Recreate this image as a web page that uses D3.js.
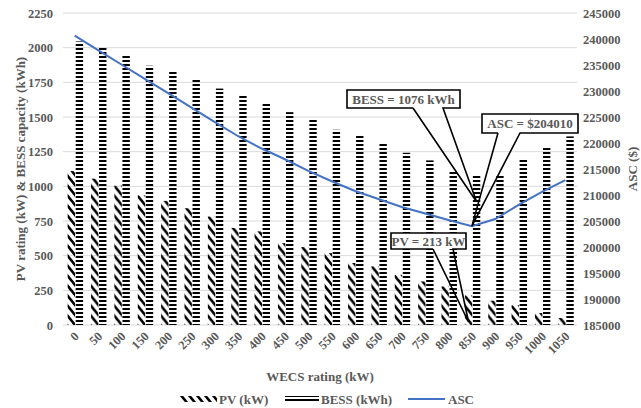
<!DOCTYPE html>
<html>
<head>
<meta charset="utf-8">
<script src="https://cdn.jsdelivr.net/npm/d3@7"></script>
<style>
  body { margin: 0; background: #fff; }
  text { font-family: "Liberation Serif", "Times New Roman", serif; font-weight: bold; fill: #595959; }
</style>
</head>
<body>
<svg id="chart" width="641" height="408"></svg>
<script>
// WECS rating categories (kW)
const wecs = [0, 50, 100, 150, 200, 250, 300, 350, 400, 450, 500, 550, 600, 650, 700, 750, 800, 850, 900, 950, 1000, 1050];
// PV rating (kW)
const pv = [1110, 1055, 1005, 935, 895, 842, 782, 700, 675, 590, 562, 518, 447, 423, 362, 314, 278, 213, 175, 142, 86, 50];
// BESS capacity (kWh)
const bess = [2045, 2000, 1945, 1870, 1833, 1776, 1705, 1660, 1600, 1535, 1487, 1408, 1372, 1307, 1242, 1187, 1110, 1076, 1076, 1197, 1276, 1360];
// ASC ($)
const asc = [240630, 237870, 235100, 232330, 229600, 226800, 224000, 221300, 218940, 216870, 214650, 212650,
             210770, 209230, 207690, 206440, 205190, 204010, 205380, 208080, 210580, 212880];

const leftTicks = [0, 250, 500, 750, 1000, 1250, 1500, 1750, 2000, 2250];
const rightTicks = d3.range(185000, 245001, 5000);

const optIndex = 17; // WECS = 850 kW

const serif = '"Liberation Serif", "Times New Roman", serif';
const plot = { left: 63, right: 577, top: 13, bottom: 325 };

const svg = d3.select('#chart');
const defs = svg.append('defs');

// PV fill: wide downward diagonal
const pvPat = defs.append('pattern')
  .attr('id', 'pvPat')
  .attr('patternUnits', 'userSpaceOnUse')
  .attr('width', 8)
  .attr('height', 10);
[-8, 0, 8].forEach(dx => {
  pvPat.append('line')
    .attr('x1', dx - 8).attr('y1', -10)
    .attr('x2', dx + 16).attr('y2', 20)
    .attr('stroke', '#000')
    .attr('stroke-width', 2.6);
});

// BESS fill: wide horizontal
const bessPat = defs.append('pattern')
  .attr('id', 'bessPat')
  .attr('patternUnits', 'userSpaceOnUse')
  .attr('width', 4)
  .attr('height', 4);
bessPat.append('rect').attr('x', 0).attr('y', 0).attr('width', 4).attr('height', 2).attr('fill', '#000');

// Scales
const x0 = d3.scaleBand()
  .domain(wecs)
  .range([plot.left, plot.right])
  .padding(0);
const bw = x0.bandwidth();
const x1 = d3.scaleBand()
  .domain(['pv', 'bess'])
  .range([bw * 0.2, bw * 0.86])
  .paddingInner(0.08);

const yL = d3.scaleLinear().domain([0, 2250]).range([plot.bottom, plot.top]);
const yR = d3.scaleLinear().domain([185000, 245000]).range([plot.bottom, plot.top]);

// Grid lines
svg.append('g')
  .selectAll('line')
  .data(leftTicks)
  .join('line')
  .attr('x1', plot.left)
  .attr('x2', plot.right)
  .attr('y1', d => yL(d))
  .attr('y2', d => yL(d))
  .attr('stroke', '#d9d9d9')
  .attr('stroke-width', 1);

function styleAxis(g) {
  g.attr('font-family', serif).attr('font-size', 12.5);
  g.select('.domain').remove();
  g.selectAll('text').attr('fill', '#595959');
}

// Left axis
svg.append('g')
  .attr('transform', `translate(${plot.left},0)`)
  .call(d3.axisLeft(yL).tickValues(leftTicks).tickSize(0).tickPadding(10).tickFormat(d3.format('d')))
  .call(styleAxis);

// Right axis
svg.append('g')
  .attr('transform', `translate(${plot.right},0)`)
  .call(d3.axisRight(yR).tickValues(rightTicks).tickSize(0).tickPadding(6).tickFormat(d3.format('d')))
  .call(styleAxis);

// X axis
const xAxis = svg.append('g')
  .attr('transform', `translate(0,${plot.bottom})`)
  .call(d3.axisBottom(x0).tickSize(0).tickPadding(0))
  .call(styleAxis);
xAxis.selectAll('text')
  .attr('text-anchor', 'end')
  .attr('dy', 0)
  .attr('y', 0)
  .attr('transform', 'translate(5,12) rotate(-45)');

// Bars
const groups = svg.append('g')
  .selectAll('g')
  .data(wecs.map((w, i) => ({ w, pv: pv[i], bess: bess[i] })))
  .join('g')
  .attr('transform', d => `translate(${x0(d.w)},0)`);

groups.append('rect')
  .attr('x', x1('pv'))
  .attr('width', x1.bandwidth())
  .attr('y', d => yL(d.pv))
  .attr('height', d => plot.bottom - yL(d.pv))
  .attr('fill', 'url(#pvPat)');

groups.append('rect')
  .attr('x', x1('bess'))
  .attr('width', x1.bandwidth())
  .attr('y', d => yL(d.bess))
  .attr('height', d => plot.bottom - yL(d.bess))
  .attr('fill', 'url(#bessPat)');

// ASC line
const line = d3.line()
  .x((d, i) => x0(wecs[i]) + bw / 2)
  .y(d => yR(d));

svg.append('path')
  .datum(asc)
  .attr('d', line)
  .attr('fill', 'none')
  .attr('stroke', '#4472c4')
  .attr('stroke-width', 2);

// Callouts
function callout(box, label, gap, tip) {
  const g = svg.append('g');
  g.append('rect')
    .attr('x', box.x).attr('y', box.y)
    .attr('width', box.w).attr('height', box.h)
    .attr('fill', '#fff');
  const b = box.y + box.h;
  const path = `M${gap[0]},${b} H${box.x} V${box.y} H${box.x + box.w} V${b} H${gap[1]}` +
    ` L${tip[0]},${tip[1]} L${gap[0]},${b}`;
  g.append('path')
    .attr('d', path)
    .attr('fill', 'none')
    .attr('stroke', '#000')
    .attr('stroke-width', 1.6);
  g.append('text')
    .attr('x', box.x + box.w / 2)
    .attr('y', box.y + box.h / 2)
    .attr('dy', '0.36em')
    .attr('text-anchor', 'middle')
    .attr('font-size', '13px')
    .text(label);
}

const w850 = wecs[optIndex];
const pvX = x0(w850) + x1('pv') + x1.bandwidth() / 2;
const bessX = x0(w850) + x1('bess') + x1.bandwidth() / 2;
const ascX = x0(w850) + bw / 2;

callout({ x: 347, y: 90, w: 113, h: 18 }, `BESS = ${bess[optIndex]} kWh`, [413, 443],
  [bessX, yL(bess[optIndex]) + 26]);
callout({ x: 482, y: 114, w: 96, h: 19 }, `ASC = $${asc[optIndex]}`, [498, 520],
  [ascX, yR(asc[optIndex])]);
callout({ x: 391, y: 233, w: 75, h: 16 }, `PV = ${pv[optIndex]} kW`, [433, 453],
  [pvX, yL(0) - 3]);

// Axis titles
svg.append('text')
  .attr('transform', `translate(20,${(plot.top + plot.bottom) / 2}) rotate(-90)`)
  .attr('text-anchor', 'middle')
  .attr('dy', '0.35em')
  .attr('font-size', '13px')
  .text('PV rating (kW) & BESS capacity (kWh)');

svg.append('text')
  .attr('transform', `translate(632,${(plot.top + plot.bottom) / 2}) rotate(-90)`)
  .attr('text-anchor', 'middle')
  .attr('dy', '0.35em')
  .attr('font-size', '13px')
  .text('ASC ($)');

svg.append('text')
  .attr('x', (plot.left + plot.right) / 2)
  .attr('y', 381)
  .attr('text-anchor', 'middle')
  .attr('font-size', '13px')
  .text('WECS rating (kW)');

// Legend
const legend = svg.append('g').attr('transform', 'translate(0,399)');
legend.append('rect').attr('x', 180).attr('y', -3).attr('width', 37).attr('height', 6).attr('fill', 'url(#pvPat)');
legend.append('text').attr('x', 219).attr('dy', '0.35em').attr('font-size', '13px').text('PV (kW)');
legend.append('rect').attr('x', 285).attr('y', -3).attr('width', 34).attr('height', 6).attr('fill', 'url(#bessPat)');
legend.append('text').attr('x', 321).attr('dy', '0.35em').attr('font-size', '13px').text('BESS (kWh)');
legend.append('line').attr('x1', 408).attr('x2', 445).attr('y1', 0).attr('y2', 0)
  .attr('stroke', '#4472c4').attr('stroke-width', 2);
legend.append('text').attr('x', 448).attr('dy', '0.35em').attr('font-size', '13px').text('ASC');
</script>
</body>
</html>
